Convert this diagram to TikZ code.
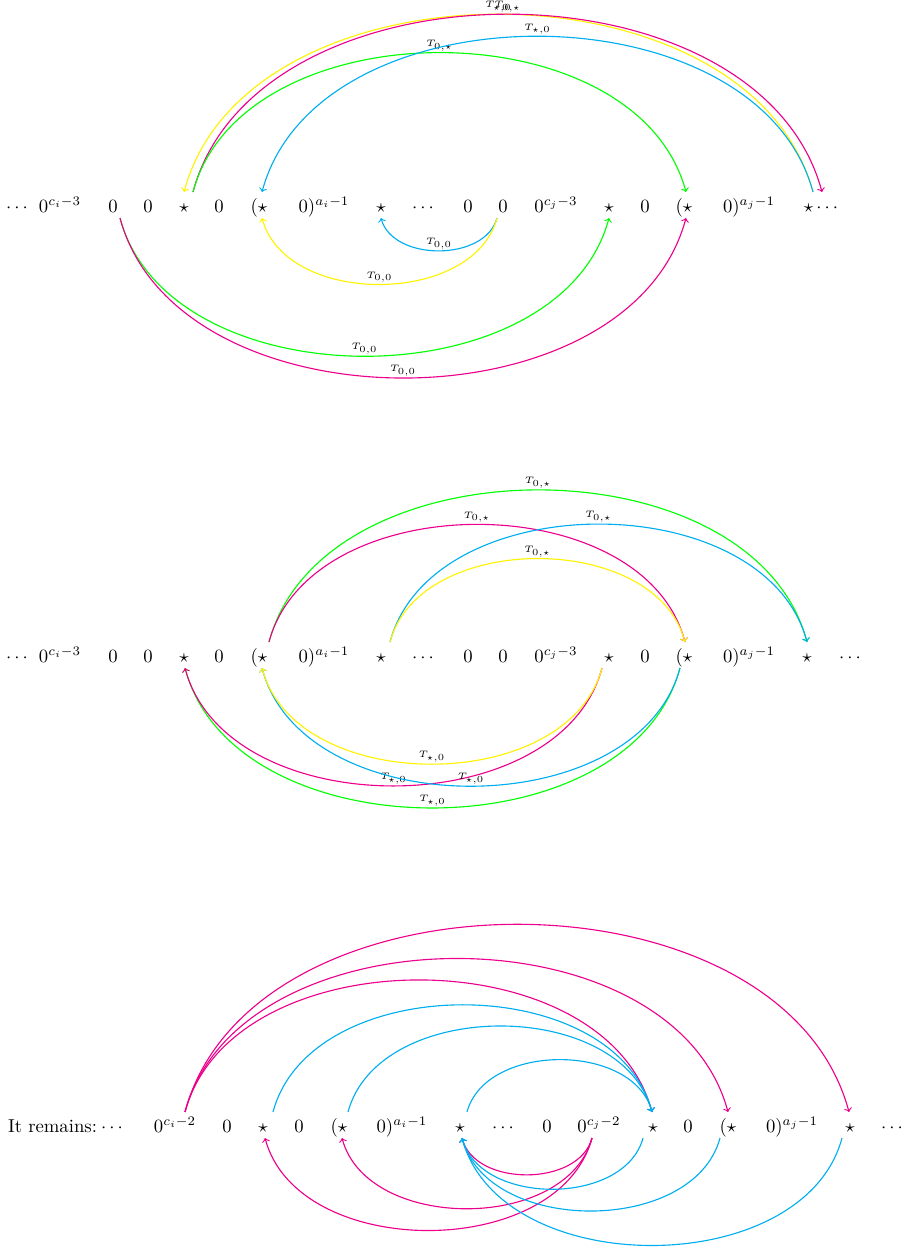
\documentclass[tikz,border=0pt]{standalone}
\usetikzlibrary{calc}
\definecolor{mycyan}{RGB}{0,174,239}
\definecolor{mymag}{RGB}{236,0,140}
\definecolor{myyel}{RGB}{255,242,0}
\definecolor{mygreen}{RGB}{0,255,0}
\begin{document}
\begin{tikzpicture}[x=0.535pt,y=0.535pt,
  el/.style={anchor=base,inner sep=0pt},
  arc/.style={->,line width=0.6pt},
  lab/.style={font=\tiny,above,inner sep=0.6pt,midway,text=black},
  ovr/.style={out=75,in=105}, ovl/.style={out=105,in=75},
  unr/.style={out=-75,in=-105}, unl/.style={out=-105,in=-75}]
\useasboundingbox (0,0) rectangle (904,-1248);
% ---------------- row 1
\node[el] (a1) at (17,-212) {$\cdots$};
\node[el] (a2) at (60,-212) {$0^{c_i-3}$};
\node[el] (a3) at (113,-212) {$0$};
\node[el] (a4) at (148,-212) {$0$};
\node[el] (a5) at (184,-212) {$\star$};
\node[el] (a6) at (219,-212) {$0$};
\node[el] (a7) at (259,-212) {$(\star$};
\node[el] (a8) at (324,-212) {$0)^{a_i-1}$};
\node[el] (a9) at (381,-212) {$\star$};
\node[el] (a10) at (423,-212) {$\cdots$};
\node[el] (a11) at (468,-212) {$0$};
\node[el] (a12) at (503,-212) {$0$};
\node[el] (a13) at (556,-212) {$0^{c_j-3}$};
\node[el] (a14) at (609,-212) {$\star$};
\node[el] (a15) at (645,-212) {$0$};
\node[el] (a16) at (684,-212) {$(\star$};
\node[el] (a17) at (749,-212) {$0)^{a_j-1}$};
\node[el] (a18) at (821,-212) {$\star\cdots$};
\draw[arc,myyel] ($(a18.base)+(-8,20)$) to[ovl] node[lab]{$T_{\star,0}$} ($(a5.base)+(0,20)$);
\draw[arc,mymag] ($(a5.base)+(9,20)$) to[ovr] node[lab]{$T_{0,\star}$} ($(a18.base)+(1,20)$);
\draw[arc,mygreen] ($(a5.base)+(9,20)$) to[ovr] node[lab]{$T_{0,\star}$} ($(a16.base)+(2,20)$);
\draw[arc,mycyan] ($(a18.base)+(-8,20)$) to[ovl] node[lab]{$T_{\star,0}$} ($(a7.base)+(3,20)$);
\draw[arc,mycyan] ($(a12.base)+(-6,-6)$) to[unl] node[lab]{$T_{0,0}$} ($(a9.base)+(0,-6)$);
\draw[arc,myyel] ($(a12.base)+(-6,-6)$) to[unl] node[lab]{$T_{0,0}$} ($(a7.base)+(3,-6)$);
\draw[arc,mygreen] ($(a3.base)+(7,-6)$) to[unr] node[lab]{$T_{0,0}$} ($(a14.base)+(0,-6)$);
\draw[arc,mymag] ($(a3.base)+(7,-6)$) to[unr] node[lab]{$T_{0,0}$} ($(a16.base)+(2,-6)$);
% ---------------- row 2
\node[el] (b1) at (17,-662) {$\cdots$};
\node[el] (b2) at (60,-662) {$0^{c_i-3}$};
\node[el] (b3) at (113,-662) {$0$};
\node[el] (b4) at (148,-662) {$0$};
\node[el] (b5) at (184,-662) {$\star$};
\node[el] (b6) at (219,-662) {$0$};
\node[el] (b7) at (259,-662) {$(\star$};
\node[el] (b8) at (324,-662) {$0)^{a_i-1}$};
\node[el] (b9) at (381,-662) {$\star$};
\node[el] (b10) at (423,-662) {$\cdots$};
\node[el] (b11) at (468,-662) {$0$};
\node[el] (b12) at (503,-662) {$0$};
\node[el] (b13) at (556,-662) {$0^{c_j-3}$};
\node[el] (b14) at (609,-662) {$\star$};
\node[el] (b15) at (645,-662) {$0$};
\node[el] (b16) at (684,-662) {$(\star$};
\node[el] (b17) at (749,-662) {$0)^{a_j-1}$};
\node[el] (b18) at (807,-662) {$\star$};
\node[el] (b19) at (850,-662) {$\cdots$};
\draw[arc,mygreen] ($(b7.base)+(10,20)$) to[ovr] node[lab]{$T_{0,\star}$} ($(b18.base)+(0,20)$);
\draw[arc,mymag] ($(b7.base)+(10,20)$) to[ovr] node[lab]{$T_{0,\star}$} ($(b16.base)+(1,20)$);
\draw[arc,mycyan] ($(b9.base)+(9,20)$) to[ovr] node[lab]{$T_{0,\star}$} ($(b18.base)+(0,20)$);
\draw[arc,myyel] ($(b9.base)+(9,20)$) to[ovr] node[lab]{$T_{0,\star}$} ($(b16.base)+(1,20)$);
\draw[arc,mygreen] ($(b16.base)+(-4,-6)$) to[unl] node[lab]{$T_{\star,0}$} ($(b5.base)+(1,-6)$);
\draw[arc,mymag] ($(b14.base)+(-7,-6)$) to[unl] node[lab]{$T_{\star,0}$} ($(b5.base)+(1,-6)$);
\draw[arc,mycyan] ($(b16.base)+(-4,-6)$) to[unl] node[lab]{$T_{\star,0}$} ($(b7.base)+(3,-6)$);
\draw[arc,myyel] ($(b14.base)+(-7,-6)$) to[unl] node[lab]{$T_{\star,0}$} ($(b7.base)+(3,-6)$);
% ---------------- row 3
\node[el] (c1) at (52.5,-1132) {It remains:};
\node[el] (c2) at (112,-1132) {$\cdots$};
\node[el] (c3) at (175,-1132) {$0^{c_i-2}$};
\node[el] (c4) at (227,-1132) {$0$};
\node[el] (c5) at (263,-1132) {$\star$};
\node[el] (c6) at (299,-1132) {$0$};
\node[el] (c7) at (339,-1132) {$(\star$};
\node[el] (c8) at (402,-1132) {$0)^{a_i-1}$};
\node[el] (c9) at (460,-1132) {$\star$};
\node[el] (c10) at (503,-1132) {$\cdots$};
\node[el] (c11) at (547,-1132) {$0$};
\node[el] (c12) at (599,-1132) {$0^{c_j-2}$};
\node[el] (c13) at (653,-1132) {$\star$};
\node[el] (c14) at (688,-1132) {$0$};
\node[el] (c15) at (728,-1132) {$(\star$};
\node[el] (c16) at (792,-1132) {$0)^{a_j-1}$};
\node[el] (c17) at (850,-1132) {$\star$};
\node[el] (c18) at (892,-1132) {$\cdots$};
\draw[arc,mymag] ($(c3.base)+(10,20)$) to[ovr] ($(c17.base)+(-1,20)$);
\draw[arc,mymag] ($(c3.base)+(10,20)$) to[ovr] ($(c15.base)+(0,20)$);
\draw[arc,mymag] ($(c3.base)+(10,20)$) to[ovr] ($(c13.base)+(-1,20)$);
\draw[arc,mycyan] ($(c5.base)+(10,20)$) to[ovr] ($(c13.base)+(-1,20)$);
\draw[arc,mycyan] ($(c7.base)+(9,20)$) to[ovr] ($(c13.base)+(-1,20)$);
\draw[arc,mycyan] ($(c9.base)+(7,20)$) to[ovr] ($(c13.base)+(-1,20)$);
\draw[arc,mymag] ($(c12.base)+(-7,-6)$) to[unl] ($(c5.base)+(2,-6)$);
\draw[arc,mymag] ($(c12.base)+(-7,-6)$) to[unl] ($(c7.base)+(3,-6)$);
\draw[arc,mymag] ($(c12.base)+(-7,-6)$) to[unl] ($(c9.base)+(2,-6)$);
\draw[arc,mycyan] ($(c13.base)+(-10,-6)$) to[unl] ($(c9.base)+(2,-6)$);
\draw[arc,mycyan] ($(c15.base)+(-8,-6)$) to[unl] ($(c9.base)+(2,-6)$);
\draw[arc,mycyan] ($(c17.base)+(-8,-6)$) to[unl] ($(c9.base)+(2,-6)$);
\end{tikzpicture}
\end{document}
